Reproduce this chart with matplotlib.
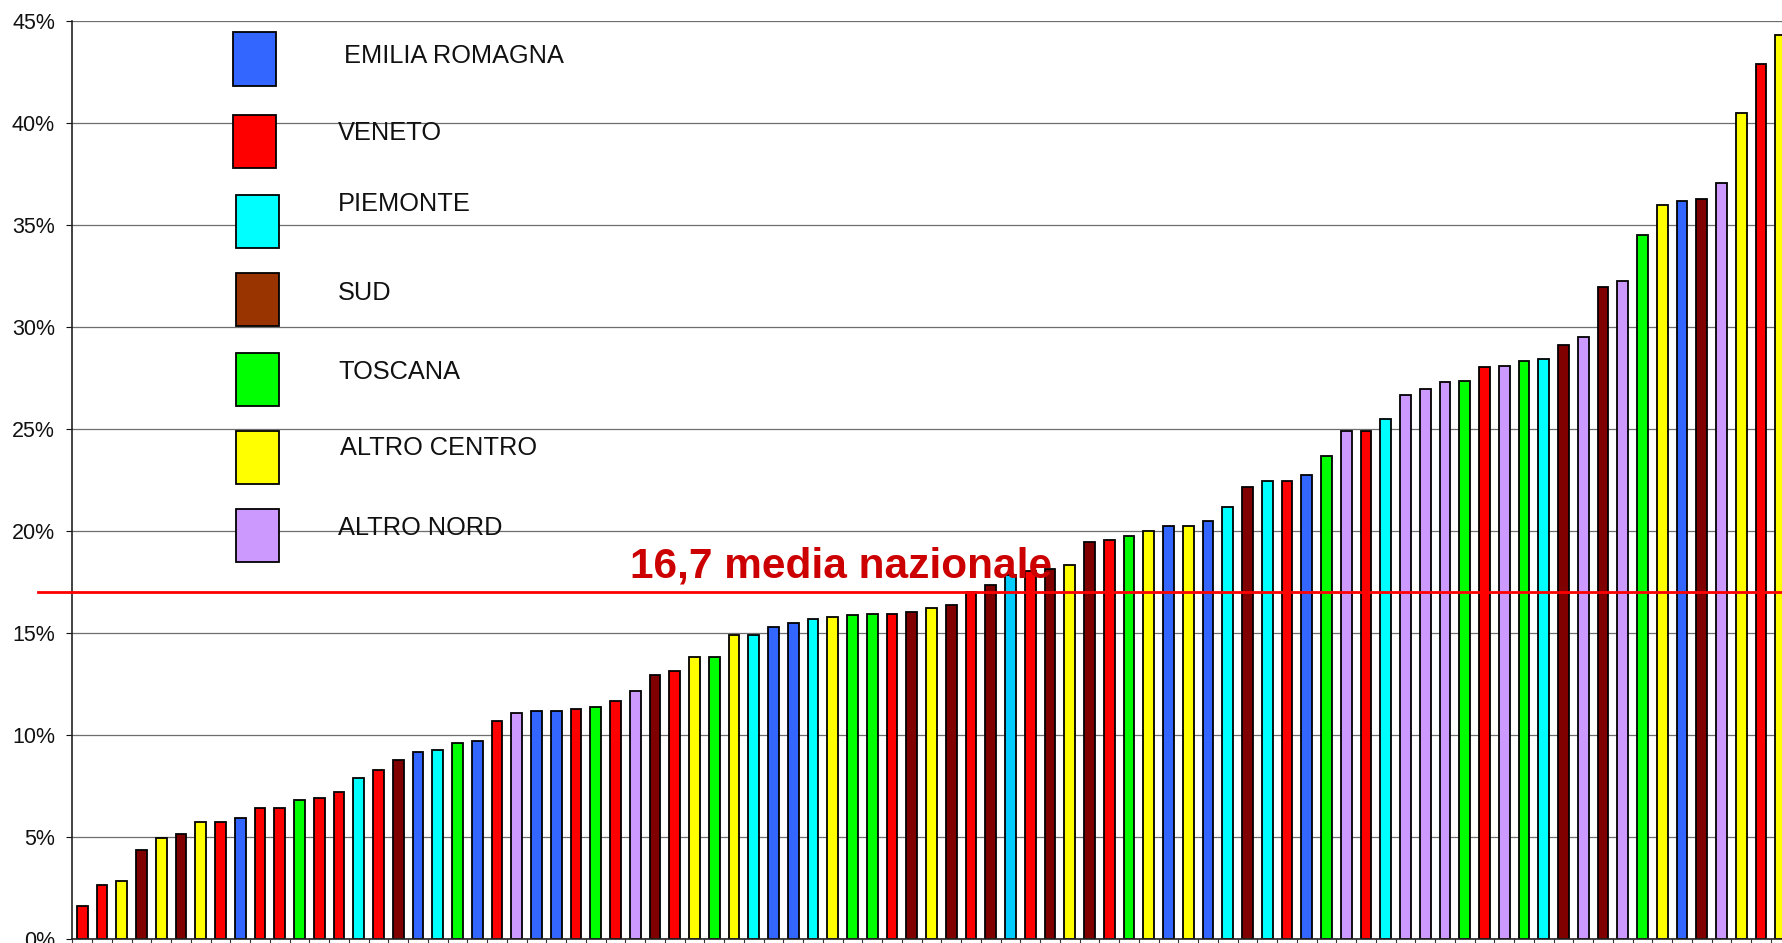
import matplotlib
matplotlib.use("Agg")
import matplotlib.pyplot as plt
from matplotlib.patches import Rectangle
from matplotlib.ticker import FuncFormatter

plt.rcParams['font.family'] = ['Liberation Sans', 'DejaVu Sans']

# share per area, one bar per unit, sorted ascending
values = [1.6, 2.65, 2.85, 4.34, 4.93, 5.13, 5.72, 5.72, 5.92, 6.41,
          6.41, 6.80, 6.90, 7.20, 7.89, 8.28, 8.76, 9.15, 9.25, 9.63,
          9.72, 10.70, 11.09, 11.19, 11.19, 11.29, 11.38, 11.68, 12.17, 12.95,
          13.14, 13.83, 13.83, 14.90, 14.90, 15.29, 15.49, 15.67, 15.77, 15.87,
          15.94, 15.94, 16.04, 16.24, 16.35, 17.0, 17.33, 17.85, 18.05, 18.15,
          18.31, 19.48, 19.58, 19.77, 19.98, 20.26, 20.26, 20.48, 21.16, 22.14,
          22.47, 22.47, 22.75, 23.66, 24.91, 24.91, 25.50, 26.69, 26.97, 27.29,
          27.36, 28.06, 28.07, 28.33, 28.42, 29.13, 29.51, 31.96, 32.25, 34.52,
          35.96, 36.17, 36.28, 37.08, 40.49, 42.87, 44.32]

regions = ['V', 'V', 'AC', 'SUD', 'AC', 'SUD', 'AC', 'V', 'ER', 'V',
           'V', 'T', 'V', 'V', 'P', 'V', 'SUD', 'ER', 'P', 'T',
           'ER', 'V', 'AN', 'ER', 'ER', 'V', 'T', 'V', 'AN', 'SUD',
           'V', 'AC', 'T', 'AC', 'P', 'ER', 'ER', 'P', 'AC', 'T',
           'T', 'V', 'SUD', 'AC', 'SUD', 'V', 'SUD', 'P', 'V', 'SUD',
           'AC', 'SUD', 'V', 'T', 'AC', 'ER', 'AC', 'ER', 'P', 'SUD',
           'P', 'V', 'ER', 'T', 'AN', 'V', 'P', 'AN', 'AN', 'AN',
           'T', 'V', 'AN', 'T', 'P', 'SUD', 'AN', 'SUD', 'AN', 'T',
           'AC', 'ER', 'SUD', 'AN', 'AC', 'V', 'AC']

legend_codes = ['ER', 'V', 'P', 'SUD', 'T', 'AC', 'AN']
legend_labels = ['EMILIA ROMAGNA', 'VENETO', 'PIEMONTE', 'SUD', 'TOSCANA',
                 'ALTRO CENTRO', 'ALTRO NORD']

media_label = '16,7 media nazionale'
media_line = 17.0

# colours
bar_colors = {'ER': '#3366ff', 'V': '#ff0000', 'P': '#00ffff', 'SUD': '#800000',
              'T': '#00ff00', 'AC': '#ffff00', 'AN': '#cc99ff'}
legend_colors = dict(bar_colors, SUD='#993300')
odd_bar_color = {47: '#00ccff'}  # one bar drawn in a lighter blue

W, H = 1783, 943
fig = plt.figure(figsize=(W / 100, H / 100), dpi=100)
ax = fig.add_axes([72.3 / W, 4 / H, 87 * 19.75 / W, 918 / H])

x = list(range(len(values)))
colors = [odd_bar_color.get(i, bar_colors[r]) for i, r in enumerate(regions)]
ax.bar(x, values, width=0.54, color=colors, edgecolor='black', linewidth=1.3, zorder=2)

ax.set_xlim(-0.5, len(values) - 0.5)
ax.set_ylim(0, 45)
ax.set_yticks(range(0, 46, 5))
ax.yaxis.set_major_formatter(FuncFormatter(lambda v, p: f'{v:.0f}%'))
ax.set_xticks([i - 0.5 for i in range(len(values) + 1)])
ax.set_xticklabels([])
ax.tick_params(axis='y', labelsize=15.5, length=4, pad=8.5, colors='#111111')
ax.tick_params(axis='x', length=5, color='#333333')
ax.grid(axis='y', color='#6e6e6e', linewidth=0.9)
ax.set_axisbelow(True)
for s in ['top', 'right']:
    ax.spines[s].set_visible(False)
for s in ['left', 'bottom']:
    ax.spines[s].set_color('#222222')
    ax.spines[s].set_linewidth(1.2)

# national average line, runs a bit left of the axis
ax.plot([-0.02, 1.0], [media_line, media_line], transform=ax.get_yaxis_transform(),
        color='#ff0000', linewidth=2, clip_on=False, zorder=4)
fig.text(630 / W, 1 - 577.3 / H, media_label, color='#cc0000', fontsize=30.5,
         fontweight='bold', va='baseline', ha='left', zorder=6)

# hand-drawn legend boxes
box_pos = [(233.4, 32.5), (233.4, 114.8), (235.7, 194.8), (235.7, 273.3),
           (235.7, 352.8), (235.7, 431.3), (235.7, 509.4)]
text_pos = [(344.4, 63), (338.3, 139.7), (338.3, 211.3), (338.3, 300.4),
            (338.3, 378.9), (339.8, 454.7), (338.3, 534.6)]
for code, label, (bx, by), (tx, ty) in zip(legend_codes, legend_labels, box_pos, text_pos):
    fig.patches.append(Rectangle((bx / W, 1 - (by + 53) / H), 43 / W, 53 / H,
                                 transform=fig.transFigure, facecolor=legend_colors[code],
                                 edgecolor='black', linewidth=1.3, zorder=5))
    fig.text(tx / W, 1 - ty / H, label, fontsize=18.3, color='#111111',
             va='baseline', ha='left', zorder=6)

fig.savefig('out.png', dpi=100)
